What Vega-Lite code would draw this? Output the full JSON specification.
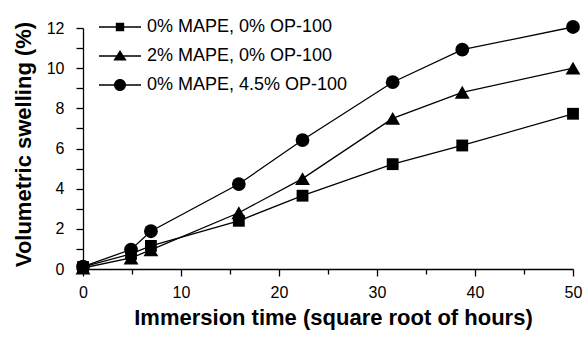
{
  "$schema": "https://vega.github.io/schema/vega-lite/v6.json",
  "width": 490,
  "height": 241,
  "autosize": {"type": "none"},
  "padding": {"left": 83, "top": 28, "right": 13, "bottom": 71},
  "config": {
    "font": "Liberation Sans",
    "view": {"stroke": null},
    "axis": {
      "domainColor": "black",
      "domainWidth": 1.3,
      "tickColor": "black",
      "tickWidth": 1.3,
      "labelColor": "black",
      "labelFontSize": 16,
      "labelFont": "Liberation Sans",
      "titleColor": "black",
      "titleFont": "Liberation Sans",
      "titleFontSize": 22,
      "titleFontWeight": "bold",
      "grid": false
    }
  },
  "data": {
    "values": [
      {"series": "0% MAPE, 0% OP-100", "x": 0, "y": 0.1},
      {"series": "0% MAPE, 0% OP-100", "x": 4.9, "y": 0.75},
      {"series": "0% MAPE, 0% OP-100", "x": 6.93, "y": 1.15},
      {"series": "0% MAPE, 0% OP-100", "x": 15.9, "y": 2.4},
      {"series": "0% MAPE, 0% OP-100", "x": 22.4, "y": 3.65},
      {"series": "0% MAPE, 0% OP-100", "x": 31.6, "y": 5.22},
      {"series": "0% MAPE, 0% OP-100", "x": 38.7, "y": 6.15},
      {"series": "0% MAPE, 0% OP-100", "x": 50, "y": 7.73},
      {"series": "2% MAPE, 0% OP-100", "x": 0, "y": 0.05},
      {"series": "2% MAPE, 0% OP-100", "x": 4.9, "y": 0.55},
      {"series": "2% MAPE, 0% OP-100", "x": 6.93, "y": 0.95},
      {"series": "2% MAPE, 0% OP-100", "x": 15.9, "y": 2.8},
      {"series": "2% MAPE, 0% OP-100", "x": 22.4, "y": 4.5},
      {"series": "2% MAPE, 0% OP-100", "x": 31.6, "y": 7.5},
      {"series": "2% MAPE, 0% OP-100", "x": 38.7, "y": 8.8},
      {"series": "2% MAPE, 0% OP-100", "x": 50, "y": 10.0},
      {"series": "0% MAPE, 4.5% OP-100", "x": 0, "y": 0.12},
      {"series": "0% MAPE, 4.5% OP-100", "x": 4.9, "y": 0.97},
      {"series": "0% MAPE, 4.5% OP-100", "x": 6.93, "y": 1.88},
      {"series": "0% MAPE, 4.5% OP-100", "x": 15.9, "y": 4.23},
      {"series": "0% MAPE, 4.5% OP-100", "x": 22.4, "y": 6.42},
      {"series": "0% MAPE, 4.5% OP-100", "x": 31.6, "y": 9.3},
      {"series": "0% MAPE, 4.5% OP-100", "x": 38.7, "y": 10.92},
      {"series": "0% MAPE, 4.5% OP-100", "x": 50, "y": 12.05}
    ]
  },
  "encoding": {
    "x": {
      "field": "x",
      "type": "quantitative",
      "scale": {"domain": [0, 50], "nice": false},
      "axis": {
        "title": "Immersion time (square root of hours)",
        "values": [0, 5, 10, 15, 20, 25, 30, 35, 40, 45, 50],
        "labelExpr": "datum.value % 10 === 0 ? datum.label : ''",
        "tickSize": {"condition": {"test": "datum.value % 10 !== 0", "value": 5}, "value": 7},
        "labelPadding": 8,
        "titlePadding": 7,
        "titleX": 250,
        "labelFlush": false
      }
    },
    "y": {
      "field": "y",
      "type": "quantitative",
      "scale": {"domain": [0, 12], "nice": false},
      "axis": {
        "title": "Volumetric swelling (%)",
        "values": [0, 1, 2, 3, 4, 5, 6, 7, 8, 9, 10, 11, 12],
        "labelExpr": "datum.value % 2 === 0 ? datum.label : ''",
        "tickSize": 7,
        "labelPadding": 12,
        "titlePadding": 11,
        "titleY": 116,
        "labelFlush": false
      }
    }
  },
  "layer": [
    {
      "mark": {"type": "line", "strokeWidth": 1.3, "clip": false},
      "encoding": {
        "color": {
          "field": "series",
          "type": "nominal",
          "sort": ["0% MAPE, 0% OP-100", "2% MAPE, 0% OP-100", "0% MAPE, 4.5% OP-100"],
          "scale": {
            "domain": ["0% MAPE, 0% OP-100", "2% MAPE, 0% OP-100", "0% MAPE, 4.5% OP-100"],
            "range": ["black", "black", "black"]
          },
          "legend": {
            "title": null,
            "orient": "none",
            "legendX": 28,
            "legendY": -10,
            "padding": 0,
            "symbolSize": 196,
            "symbolType": "circle",
            "symbolFillColor": "black",
            "symbolStrokeColor": "black",
            "symbolStrokeWidth": 0,
            "labelFontSize": 18,
            "labelFont": "Liberation Sans",
            "labelColor": "black",
            "labelLimit": 400,
            "labelOffset": 18,
            "rowPadding": 11,
            "encode": {
              "symbols": {
                "update": {
                  "shape": {"signal": "datum.value === '0% MAPE, 0% OP-100' ? 'M-3,-0.1H3V0.1H-3ZM-0.6,-0.6H0.6V0.6H-0.6Z' : datum.value === '2% MAPE, 0% OP-100' ? 'M-3,-0.1H3V0.1H-3ZM0,-0.85L0.95,0.65H-0.95Z' : 'M-3,-0.1H3V0.1H-3ZM-0.86,0A0.86,0.86 0 1,1 0.86,0A0.86,0.86 0 1,1 -0.86,0Z'"},
                  "fill": {"value": "black"},
                  "fillOpacity": {"value": 1},
                  "opacity": {"value": 1}
                }
              }
            }
          }
        }
      }
    },
    {
      "transform": [{"filter": "datum.series === '0% MAPE, 0% OP-100'"}],
      "mark": {"type": "point", "shape": "square", "size": 140, "filled": true, "color": "black", "opacity": 1, "clip": false}
    },
    {
      "transform": [{"filter": "datum.series === '2% MAPE, 0% OP-100'"}],
      "mark": {"type": "point", "shape": "triangle-up", "size": 220, "filled": true, "color": "black", "opacity": 1, "clip": false}
    },
    {
      "transform": [{"filter": "datum.series === '0% MAPE, 4.5% OP-100'"}],
      "mark": {"type": "point", "shape": "circle", "size": 190, "filled": true, "color": "black", "opacity": 1, "clip": false}
    }
  ]
}
